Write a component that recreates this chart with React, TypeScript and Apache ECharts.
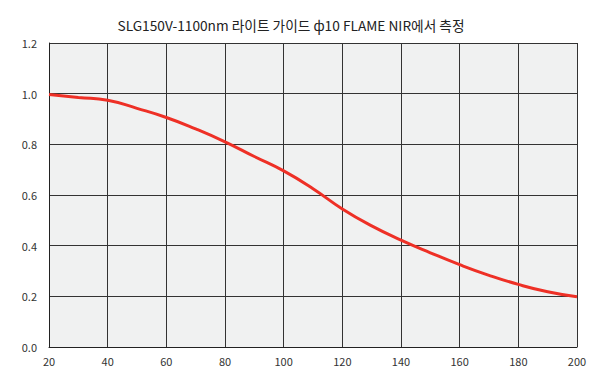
import React, { useEffect, useRef } from "react";
import * as echarts from "echarts";

const titleText = "SLG150V-1100nm 라이트 가이드 ф10 FLAME NIR에서 측정";
const xValues = [20, 30, 40, 50, 60, 70, 80, 90, 100, 110, 120, 130, 140, 150, 160, 170, 180, 190, 200];
const yValues = [0.997, 0.985, 0.974, 0.942, 0.906, 0.861, 0.81, 0.752, 0.695, 0.625, 0.545, 0.478, 0.422, 0.372, 0.325, 0.283, 0.247, 0.218, 0.198];

export default function App() {
  const ref = useRef<HTMLDivElement>(null);
  useEffect(() => {
    if (!ref.current) return;
    const chart = echarts.init(ref.current, undefined, { renderer: "svg" });
    const font = "'Noto Sans CJK KR', 'Noto Sans', sans-serif";
    chart.setOption({
      animation: false,
      backgroundColor: "#ffffff",
      title: {
        text: titleText,
        left: 286,
        textAlign: "center",
        top: 13,
        textStyle: { fontFamily: font, fontSize: 13.7, fontWeight: "normal", color: "#222" },
      },
      grid: { left: 49, right: 23, top: 43, bottom: 34, show: true, backgroundColor: "#f0f1f1", borderWidth: 0 },
      xAxis: {
        type: "value",
        min: 20,
        max: 200,
        interval: 20,
        axisLine: { show: true, lineStyle: { color: "#222", width: 1 } },
        axisTick: { show: false },
        axisLabel: { color: "#333", fontFamily: font, fontSize: 11, margin: 8 },
        splitLine: { show: true, lineStyle: { color: "#333", width: 1 } },
      },
      yAxis: {
        type: "value",
        min: 0,
        max: 1.2,
        interval: 0.2,
        axisLine: { show: true, lineStyle: { color: "#222", width: 1 } },
        axisTick: { show: false },
        axisLabel: { color: "#333", fontFamily: font, fontSize: 11, margin: 12, formatter: (v: number) => v.toFixed(1) },
        splitLine: { show: true, lineStyle: { color: "#333", width: 1 } },
      },
      series: [
        {
          type: "line",
          data: xValues.map((x, i) => [x, yValues[i]]),
          smooth: 0.5,
          showSymbol: false,
          lineStyle: { color: "#ee3026", width: 3 },
        },
      ],
    });
    return () => chart.dispose();
  }, []);
  return <div ref={ref} style={{ width: 600, height: 381, margin: -8 }} />;
}
